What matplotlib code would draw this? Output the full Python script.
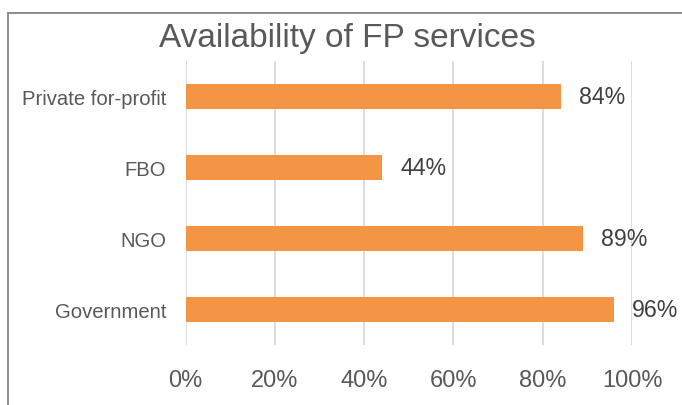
import matplotlib
matplotlib.use("Agg")
import matplotlib.pyplot as plt
from matplotlib.patches import Rectangle
from matplotlib.ticker import PercentFormatter

categories = ["Government", "NGO", "FBO", "Private for-profit"]
values = [96, 89, 44, 84]
xticks = [0, 20, 40, 60, 80, 100]

plt.rcParams['font.family'] = ['Liberation Sans', 'DejaVu Sans']
text_color = "#595959"
bar_color = "#F39545"

fig = plt.figure(figsize=(6.82, 4.06), dpi=100)
ax = fig.add_axes([185.5/682, 1-346/406, (632-185.5)/682, (346-62)/406])

y = range(len(categories))
ax.barh(list(y), values, height=0.35, color=bar_color, zorder=3)
for yi, v in zip(y, values):
    ax.annotate(f"{v}%", (v, yi), xytext=(13, 0), textcoords="offset points",
                va="center", ha="left", fontsize=16.7, color="#404040")

ax.set_xlim(0, 100)
ax.set_ylim(-0.5, len(categories) - 0.5)
ax.set_xticks(xticks)
ax.xaxis.set_major_formatter(PercentFormatter(decimals=0))
ax.set_yticks(list(y))
ax.set_yticklabels(categories)
ax.tick_params(axis='x', length=0, pad=17, labelsize=17, labelcolor=text_color)
ax.tick_params(axis='y', length=0, pad=14, labelsize=14.6, labelcolor=text_color)
ax.grid(axis='x', color="#D9D9D9", linewidth=1.3, zorder=0)
for s in ax.spines.values():
    s.set_visible(False)

fig.text(347/682, 1-38/406, "Availability of FP services", ha="center", va="center",
         fontsize=24, color=text_color)

# chart border (cropped at right/bottom)
fig.patches.append(Rectangle((8/682, -0.1), 1.2, 1 - 14/406 + 0.1, transform=fig.transFigure,
                             fill=False, edgecolor="#8C8C8C", linewidth=1.4))

fig.savefig("out.png", dpi=100)
